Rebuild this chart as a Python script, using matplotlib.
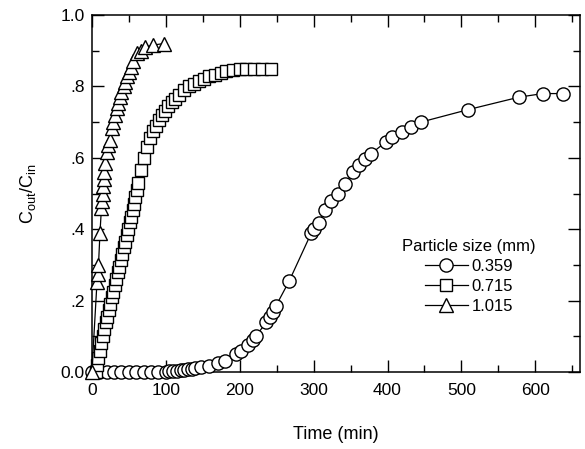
import matplotlib
matplotlib.use("Agg")
import matplotlib.pyplot as plt
from matplotlib.ticker import MultipleLocator, FixedLocator, FixedFormatter

plt.rcParams["font.family"] = ["Liberation Sans", "DejaVu Sans"]
plt.rcParams["mathtext.fontset"] = "custom"
plt.rcParams["mathtext.rm"] = "Liberation Sans"
plt.rcParams["mathtext.it"] = "Liberation Sans"

# particle size 0.359 mm
c_time = [0, 10, 20, 30, 40, 50, 60, 70, 80, 90,
          100, 105, 110, 115, 120, 125, 130, 135, 140, 148,
          158, 170, 180, 195, 202, 211, 218, 222, 236, 241,
          245, 249, 267, 297, 301, 307, 316, 324, 333, 343,
          353, 361, 369, 378, 398, 406, 420, 432, 445, 509,
          578, 610, 637]
c_ratio = [0, 0, 0, 0, 0, 0, 0, 0, 0, 0,
           0, .002, .003, .004, .005, .006, .007, .008, .01, .013,
           .018, .024, .03, .05, .058, .075, .09, .10, .14, .155,
           .168, .185, .255, .39, .40, .418, .455, .478, .50, .528,
           .56, .58, .598, .612, .645, .657, .673, .687, .70, .735,
           .77, .78, .78]

# particle size 0.715 mm
s_time = [5, 7, 9, 11, 13, 15, 17, 19, 21, 23,
          25, 27, 29, 31, 33, 35, 37, 39, 41, 43,
          45, 47, 49, 51, 53, 55, 57, 59, 61, 63,
          67, 71, 75, 79, 83, 87, 91, 95, 99, 103,
          108, 112, 118, 124, 131, 138, 145, 152, 159, 167,
          175, 182, 191, 200, 209, 219, 230, 242]
s_ratio = [0, .02, .04, .06, .08, .10, .12, .14, .155, .175,
           .19, .21, .225, .245, .26, .28, .295, .315, .33, .35,
           .365, .385, .40, .42, .435, .455, .47, .49, .51, .53,
           .565, .60, .63, .655, .675, .69, .705, .72, .732, .745,
           .757, .765, .777, .79, .80, .808, .815, .822, .828, .833,
           .838, .842, .846, .848, .849, .85, .85, .85]

# particle size 1.015 mm
t_time = [0, 7, 8, 9, 11, 13, 14, 14.5, 15, 16,
          17, 18, 20, 22, 24, 27, 29, 31, 34, 36,
          38, 40, 43, 45, 48, 50, 53, 56, 61, 66,
          72, 83, 97]
t_ratio = [0, .253, .275, .30, .39, .46, .48, .50, .52, .54,
           .56, .585, .615, .635, .65, .683, .70, .72, .74, .753,
           .77, .785, .80, .813, .828, .84, .855, .87, .893, .90,
           .91, .916, .92]

sizes = ["0.359", "0.715", "1.015"]
y_ticks = [0.0, 0.2, 0.4, 0.6, 0.8, 1.0]
y_tick_labels = ["0.0", ".2", ".4", ".6", ".8", "1.0"]

fig = plt.figure(figsize=(5.85, 4.49), dpi=100)
ax = fig.add_axes([0.157, 0.1715, 0.834, 0.795])

style = dict(color="black", lw=0.9, mfc="white", mec="black", mew=1.0,
             clip_on=False)
ax.plot(c_time, c_ratio, marker="o", ms=9.5, label=sizes[0], zorder=3, **style)
ax.plot(s_time, s_ratio, marker="s", ms=8.8, label=sizes[1], zorder=4, **style)
ax.plot(t_time, t_ratio, marker="^", ms=9.5, label=sizes[2], zorder=5, **style)

ax.set_xlim(0, 660)
ax.set_ylim(0, 1.0)
ax.xaxis.set_major_locator(MultipleLocator(100))
ax.xaxis.set_minor_locator(MultipleLocator(50))
ax.yaxis.set_major_locator(FixedLocator(y_ticks))
ax.yaxis.set_major_formatter(FixedFormatter(y_tick_labels))
ax.yaxis.set_minor_locator(MultipleLocator(0.1))
ax.tick_params(which="both", direction="in", top=True, right=True,
               labelsize=12.5, width=1)
ax.tick_params(which="major", length=8.5)
ax.tick_params(which="minor", length=5)
ax.tick_params(axis="x", which="major", pad=8)
ax.tick_params(axis="y", which="major", pad=5)
for sp in ax.spines.values():
    sp.set_linewidth(1.1)

ax.set_xlabel("Time (min)", fontsize=13, labelpad=20)
ax.set_ylabel(r"C$_{\mathrm{out}}$/C$_{\mathrm{in}}$", fontsize=13, labelpad=16)

leg = ax.legend(title="Particle size (mm)", loc="upper left",
                bbox_to_anchor=(0.605, 0.415), frameon=False, fontsize=12,
                title_fontsize=12, handlelength=2.6, handletextpad=0.2,
                labelspacing=0.3)

fig.savefig("out.png", dpi=100)
